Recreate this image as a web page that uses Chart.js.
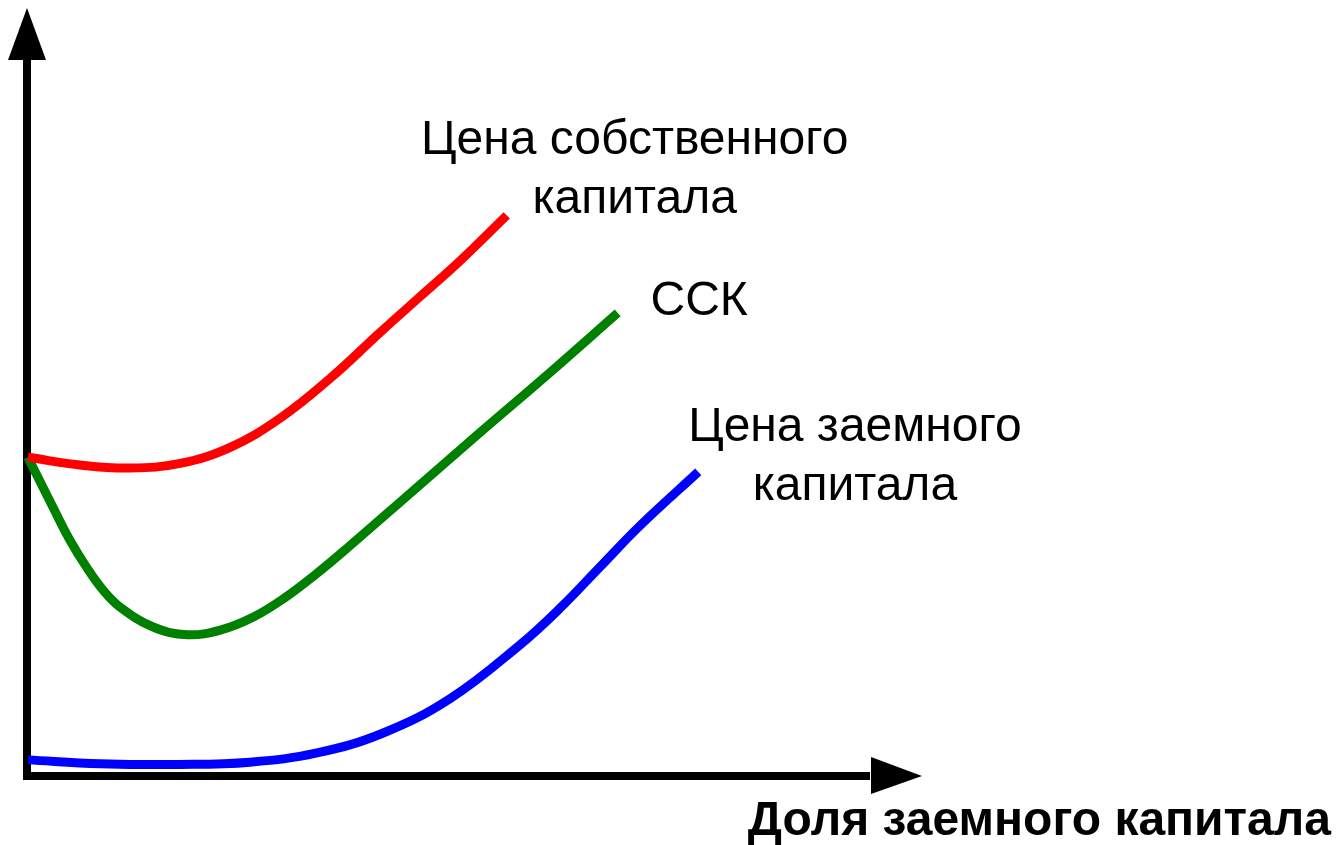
<!DOCTYPE html>
<html>
<head>
<meta charset="utf-8">
<script src="https://cdn.jsdelivr.net/npm/chart.js@4.4.1/dist/chart.umd.min.js"></script>
<style>
  html, body { margin: 0; padding: 0; background: #fff; }
  #wrap { width: 1336px; height: 845px; }
</style>
</head>
<body>
<div id="wrap"><canvas id="chart"></canvas></div>
<script>
// Доля заемного капитала (%) vs цена капитала (условные единицы)
const equityX = [0.1, 5.9, 11.5, 17.1, 22.7, 28.3, 33.9, 39.4, 43.9, 48.4, 53.6];
const equityY = [41.5, 40.5, 40.1, 40.7, 42.8, 46.6, 51.8, 57.7, 62.4, 67.1, 73.0];

const waccX = [0.1, 2.9, 4.8, 6.7, 8.5, 10.4, 14.1, 17.9, 21.6, 25.3, 28.8, 32.2, 35.8, 43.1, 50.6, 58.1, 66.0];
const waccY = [41.5, 35.0, 30.7, 27.1, 24.2, 22.0, 19.4, 18.4, 19.0, 20.7, 23.2, 26.2, 29.7, 37.1, 44.7, 52.2, 60.3];

const debtX = [0.1, 8.2, 17.1, 24.9, 32.4, 39.8, 47.3, 55.1, 59.6, 64.0, 68.5, 75.0];
const debtY = [2.1, 1.6, 1.5, 1.8, 3.0, 5.6, 10.1, 17.1, 21.9, 27.2, 32.6, 39.6];

const seriesNames = ['Цена собственного капитала', 'ССК', 'Цена заемного капитала'];
const seriesColors = ['#ff0000', '#008000', '#0000ff'];
const xAxisTitle = 'Доля заемного капитала';

function toPoints(xs, ys) {
  return xs.map((x, i) => ({ x: x, y: ys[i] }));
}

// labels next to curve ends, in data units
const curveLabels = [
  { lines: ['Цена собственного', 'капитала'], x: 67.9, y: 82.7 },
  { lines: ['ССК'], x: 75.1, y: 61.7 },
  { lines: ['Цена заемного', 'капитала'], x: 92.5, y: 45.4 }
];

const axesPlugin = {
  id: 'arrowAxes',
  beforeDatasetsDraw(chart) {
    const { ctx, chartArea: a } = chart;
    ctx.save();
    ctx.fillStyle = '#000';
    // vertical axis
    ctx.fillRect(a.left - 4, a.top + 50, 8, a.bottom - a.top - 46);
    ctx.beginPath();
    ctx.moveTo(a.left, a.top);
    ctx.lineTo(a.left - 19, a.top + 52);
    ctx.lineTo(a.left + 19, a.top + 52);
    ctx.closePath();
    ctx.fill();
    // horizontal axis
    ctx.fillRect(a.left - 4, a.bottom - 4, a.right - a.left - 48, 8);
    ctx.beginPath();
    ctx.moveTo(a.right, a.bottom);
    ctx.lineTo(a.right - 51, a.bottom - 19);
    ctx.lineTo(a.right - 51, a.bottom + 18);
    ctx.closePath();
    ctx.fill();
    ctx.restore();
  },
  afterDraw(chart) {
    const { ctx, scales: { x, y } } = chart;
    ctx.save();
    ctx.fillStyle = '#000';
    ctx.textAlign = 'center';
    ctx.textBaseline = 'middle';
    ctx.font = '48px "Liberation Sans", Arial, sans-serif';
    curveLabels.forEach(l => {
      const cx = x.getPixelForValue(l.x);
      const cy = y.getPixelForValue(l.y);
      l.lines.forEach((t, i) => ctx.fillText(t, cx, cy + i * 59));
    });
    ctx.font = 'bold 48px "Liberation Sans", Arial, sans-serif';
    ctx.textAlign = 'right';
    ctx.fillText(xAxisTitle, 1331, 822);
    ctx.restore();
  }
};

new Chart(document.getElementById('chart').getContext('2d'), {
  type: 'line',
  data: {
    datasets: [
      { label: seriesNames[0], data: toPoints(equityX, equityY), borderColor: seriesColors[0] },
      { label: seriesNames[1], data: toPoints(waccX, waccY), borderColor: seriesColors[1] },
      { label: seriesNames[2], data: toPoints(debtX, debtY), borderColor: seriesColors[2] }
    ]
  },
  options: {
    responsive: true,
    maintainAspectRatio: false,
    animation: false,
    layout: { padding: { left: 27, top: 8, right: 414, bottom: 69 } },
    elements: {
      line: { borderWidth: 9, tension: 0.4, fill: false },
      point: { radius: 0, hoverRadius: 0 }
    },
    datasets: { line: { clip: false } },
    plugins: { legend: { display: false }, tooltip: { enabled: false } },
    scales: {
      x: { type: 'linear', min: 0, max: 100, display: false },
      y: { type: 'linear', min: 0, max: 100, display: false }
    }
  },
  plugins: [axesPlugin]
});
</script>
</body>
</html>
